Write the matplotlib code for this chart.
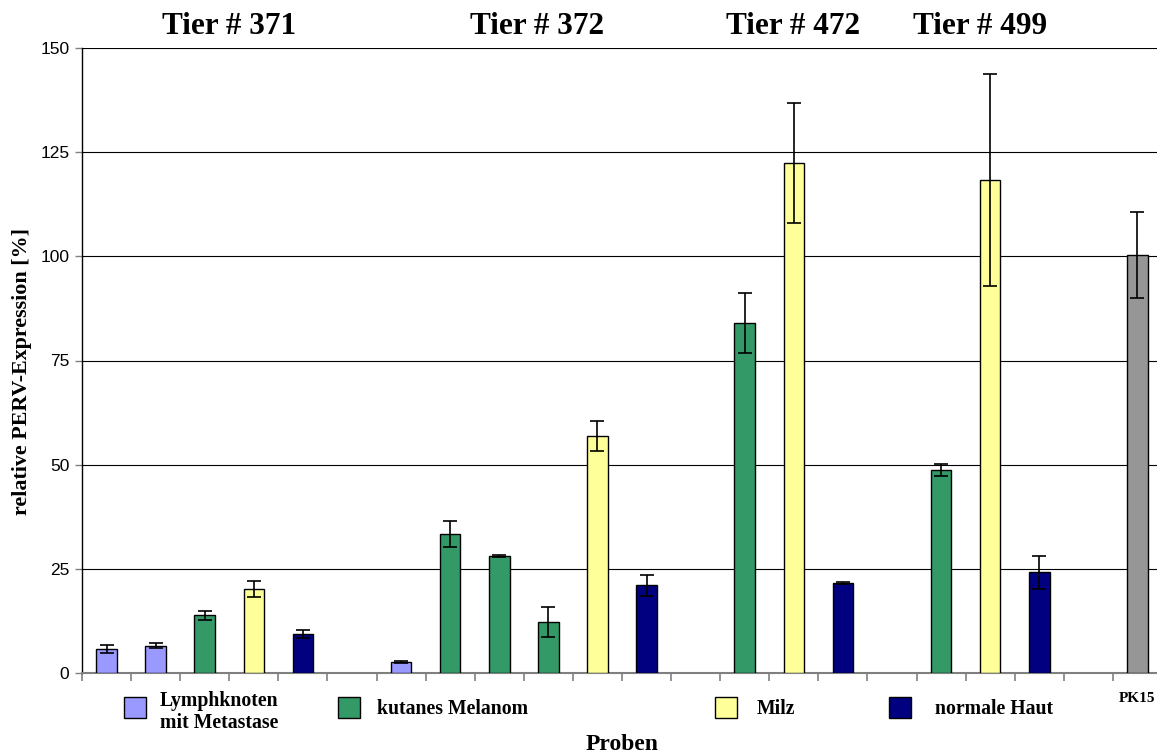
import numpy as np
import matplotlib
matplotlib.use("Agg")
import matplotlib.pyplot as plt
from matplotlib.patches import Rectangle
from matplotlib.transforms import blended_transform_factory

# Sample layout: one slot per sample, None marks a gap between animals
tissue = ["Lymph", "Lymph", "Melanom", "Milz", "Haut", None,
          "Lymph", "Melanom", "Melanom", "Melanom", "Milz", "Haut", None,
          "Melanom", "Milz", "Haut", None,
          "Melanom", "Milz", "Haut", None,
          "PK15"]
expression = [5.7, 6.6, 13.9, 20.2, 9.4, np.nan,
              2.6, 33.3, 28.1, 12.2, 56.9, 21.1, np.nan,
              84.0, 122.4, 21.6, np.nan,
              48.7, 118.3, 24.2, np.nan,
              100.3]
expression_sd = [1.0, 0.5, 1.1, 2.0, 1.0, np.nan,
                 0.2, 3.1, 0.2, 3.6, 3.7, 2.5, np.nan,
                 7.2, 14.3, 0.3, np.nan,
                 1.5, 25.4, 4.0, np.nan,
                 10.3]

animals = ["Tier # 371", "Tier # 372", "Tier # 472", "Tier # 499"]
animal_centers = [2.5, 8.76, 13.98, 17.8]

tissue_colors = {"Lymph": "#9999FF", "Melanom": "#339966", "Milz": "#FFFF99",
                 "Haut": "#000080", "PK15": "#969696"}
legend_labels = [("Lymph", "Lymphknoten\nmit Metastase"),
                 ("Melanom", "kutanes Melanom"),
                 ("Milz", "Milz"),
                 ("Haut", "normale Haut")]

serif = "Liberation Serif"
sans = "Liberation Sans"

W, H = 1157, 753
fig = plt.figure(figsize=(W / 100, H / 100), dpi=100)
ax = fig.add_axes([82 / W, 1 - 673 / H, (1162 - 82) / W, (673 - 48) / H])

x = np.arange(len(tissue))
vals = np.array(expression, dtype=float)
errs = np.array(expression_sd, dtype=float)
colors = [tissue_colors.get(t, "white") if t else "white" for t in tissue]
mask = ~np.isnan(vals)

ax.set_axisbelow(True)
ax.yaxis.grid(True, color="black", linewidth=0.8)
ax.bar(x[mask], vals[mask], width=0.42, color=[c for c, m in zip(colors, mask) if m],
       edgecolor="black", linewidth=1.0, zorder=3)
ax.errorbar(x[mask], vals[mask], yerr=errs[mask], fmt="none", ecolor="black",
            elinewidth=1.2, capsize=5, capthick=1.2, zorder=4)

ax.set_xlim(-0.5, len(tissue) - 0.5)
ax.set_ylim(0, 150)
ax.set_yticks(np.arange(0, 151, 25))
ax.set_xticks(np.arange(-0.5, len(tissue) - 0.5, 1.0))
ax.set_xticklabels([])
ax.set_xticks([len(tissue) - 1], minor=True)
ax.set_xticklabels(["PK15"], minor=True, fontfamily=serif, fontweight="bold", fontsize=11)
ax.tick_params(axis="x", which="minor", length=0, pad=14)
ax.tick_params(axis="x", which="major", direction="out", length=6, color="#808080", width=1.2)
ax.tick_params(axis="y", direction="out", length=5, color="#808080", width=1.0, pad=4)
for lab in ax.get_yticklabels():
    lab.set_fontfamily(sans)
    lab.set_fontsize(12.5)

for side in ("top", "right"):
    ax.spines[side].set_visible(False)
ax.spines["left"].set_color("black")
ax.spines["left"].set_linewidth(1.0)
ax.spines["bottom"].set_color("#808080")
ax.spines["bottom"].set_linewidth(1.5)

ax.set_ylabel("relative PERV-Expression [%]", fontfamily=serif, fontweight="bold",
              fontsize=15.8)
ax.yaxis.set_label_coords(-50 / (1162 - 82), 0.482)

trans = blended_transform_factory(ax.transData, fig.transFigure)
for name, cx in zip(animals, animal_centers):
    fig.text(cx, 1 - 27 / H, name, transform=trans, ha="center", va="center",
             fontfamily=serif, fontweight="bold", fontsize=22.5)

# Legend drawn along the bottom of the figure
legend_boxes = [124, 338, 715, 889]
legend_texts = [160, 377, 757, 935]
legend_text_y = [712, 709, 709, 709]
for (key, label), bx, tx, ty in zip(legend_labels, legend_boxes, legend_texts, legend_text_y):
    fig.patches.append(Rectangle((bx / W, 1 - 718 / H), 22 / W, 21 / H,
                                 transform=fig.transFigure, facecolor=tissue_colors[key],
                                 edgecolor="black", linewidth=1.0))
    fig.text(tx / W, 1 - ty / H, label, ha="left", va="center", fontfamily=serif,
             fontweight="bold", fontsize=14.2, linespacing=1.15)

fig.text(622 / W, 1 - 744 / H, "Proben", ha="center", va="center", fontfamily=serif,
         fontweight="bold", fontsize=17)

fig.savefig("out.png", dpi=100)
